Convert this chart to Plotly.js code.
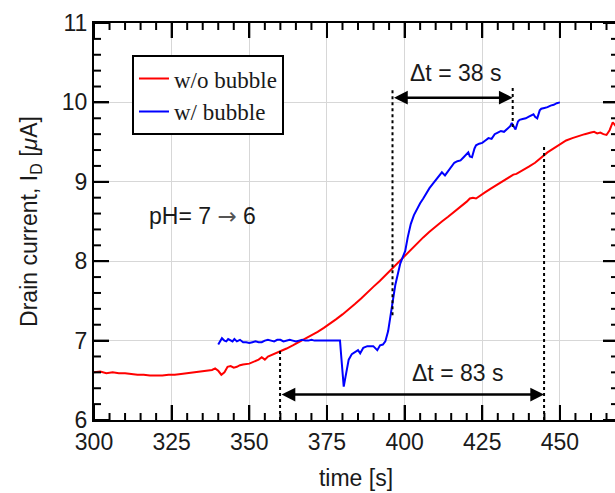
<!DOCTYPE html>
<html>
<head>
<meta charset="utf-8">
<script src="https://cdn.plot.ly/plotly-3.0.1.min.js"></script>
<style>
html,body{margin:0;padding:0;overflow:hidden;background:#fff;}
#chart{width:625px;height:493px;}
</style>
</head>
<body>
<div id="chart"></div>
<script>
// ---- data ----
const redTime = [300,302,304,306,308,310,312,314,316,318,320,322,324,326,328,330,332,334,336,338,339,340,341,342,343,344,345,346,347,348,350,352,353,354,355,356,358,360,362,364,366,368,370,372,374,376,378,380,382,384,386,388,390,392,394,396,398,400,402,404,406,408,410,412,414,416,418,420,421,422,423,424,426,428,430,432,434,435,436,438,440,442,444,446,448,450,452,454,456,458,460,461,462,463,464,465,466,467,468,468.7];
const redCurrent = [6.60,6.61,6.59,6.60,6.59,6.59,6.58,6.57,6.57,6.56,6.56,6.56,6.57,6.57,6.58,6.59,6.60,6.61,6.62,6.63,6.65,6.62,6.57,6.60,6.67,6.68,6.66,6.67,6.69,6.70,6.71,6.74,6.76,6.79,6.76,6.80,6.83,6.87,6.90,6.94,6.98,7.03,7.07,7.11,7.16,7.21,7.27,7.33,7.39,7.46,7.53,7.61,7.68,7.75,7.83,7.91,7.99,8.07,8.15,8.23,8.30,8.37,8.44,8.50,8.56,8.62,8.68,8.75,8.79,8.80,8.79,8.82,8.87,8.92,8.97,9.01,9.06,9.09,9.10,9.14,9.19,9.24,9.31,9.37,9.42,9.47,9.52,9.55,9.58,9.60,9.62,9.63,9.61,9.62,9.60,9.59,9.65,9.75,9.70,9.72];

const blueTime = [340,340.6,341.2,342,342.6,343.2,344,344.6,345.2,346,347,348,349,350,351,352,353,354,355,356,357,358,359,360,361,362,363,364,365,366,367,368,369,370,371,372,374,376,378,379.2,379.6,380,380.4,381,382,383,384,385,385.7,386.7,388,389.9,391.2,392.1,393,393.8,394.7,395.5,396.2,397,397.8,398.6,399.4,400.2,401,402,403,404,405,406,407,408,409,410,411,412,413,414,415,416,417,418,419,420,420.5,421,421.7,422.5,423,424,425,426,427,428,429,430,431,432,433,434,434.5,435,435.7,436.5,437,438,439,440,441,441.5,442,442.7,443.5,444,445,446,447,448,449,450];
const blueCurrent = [6.95,7.00,7.03,7.00,6.99,7.02,7.00,6.99,7.02,6.99,7.01,6.98,6.98,6.97,6.98,6.99,6.98,6.98,7.00,7.01,7.00,6.99,7.01,7.01,6.99,7.00,7.01,7.00,6.99,7.00,7.01,7.00,7.00,7.01,7.00,7.00,7.00,7.00,7.00,7.00,6.80,6.55,6.42,6.55,6.76,6.83,6.86,6.88,6.84,6.91,6.93,6.93,6.88,6.94,6.95,6.99,7.12,7.30,7.50,7.70,7.85,7.97,8.05,8.13,8.30,8.47,8.58,8.66,8.73,8.79,8.86,8.92,8.97,9.02,9.06,9.12,9.08,9.13,9.18,9.24,9.26,9.27,9.31,9.36,9.37,9.32,9.31,9.42,9.46,9.48,9.49,9.52,9.55,9.54,9.60,9.62,9.64,9.63,9.67,9.70,9.74,9.70,9.66,9.76,9.78,9.79,9.80,9.82,9.84,9.85,9.82,9.80,9.90,9.92,9.93,9.94,9.96,9.97,9.99,10.00];

const seriesNames = ['w/o bubble', 'w/ bubble'];
const xRange = [300, 468.7], yRange = [6, 11];
const xTickStart = 300, xTickStep = 25, xMinorStep = 5;
const yTickStart = 6, yTickStep = 1, yMinorStep = 0.2;

// Δt markers: [start, end, arrow level]
const dtFast = [396.1, 434.8, 10.06];   // Δt = 38 s
const dtSlow = [359.9, 444.9, 6.32];    // Δt = 83 s
const dtLabels = ['Δt = 38 s', 'Δt = 83 s'];
const dtLabelPos = [[416.3, 10.37], [417, 6.59]];
// dotted guides: [x, y0, y1]
const guides = [[396.1, 7.32, 10.18], [434.8, 9.69, 10.22], [359.9, 6.0, 6.88], [444.9, 6.0, 9.44]];
const phText = 'pH= 7 <span style="font-family:DejaVu Sans;color:#555">→</span> 6';
const phPos = [334.8, 8.57];

// ---- chart ----
const sansFont = 'Liberation Sans, Arial, sans-serif';
const textColor = '#1a1a1a';
const majorLen = 15, minorLen = 7;

const traces = [
  {x: redTime, y: redCurrent, name: seriesNames[0], type: 'scatter', mode: 'lines',
   line: {color: 'rgb(255,0,0)', width: 2}},
  {x: blueTime, y: blueCurrent, name: seriesNames[1], type: 'scatter', mode: 'lines',
   line: {color: 'rgb(0,0,255)', width: 2}}
];

const shapes = guides.map(g => ({
  type: 'line', xref: 'x', yref: 'y', x0: g[0], x1: g[0], y0: g[1], y1: g[2],
  line: {color: 'black', width: 2, dash: 'dot'}
}));

// inside tick marks on all four sides, placed on the axis scales (pixel-sized length)
function tickValues(start, step, end) {
  const out = [];
  for (let i = 0; start + i * step <= end + 1e-9; i++) out.push(+(start + i * step).toFixed(6));
  return out;
}
function isMajor(v, start, step) {
  const k = (v - start) / step;
  return Math.abs(k - Math.round(k)) < 1e-6;
}
tickValues(xTickStart, xMinorStep, xRange[1]).forEach(v => {
  const len = isMajor(v, xTickStart, xTickStep) ? majorLen : minorLen;
  [[0, len], [1, -len]].forEach(([anchor, l]) => shapes.push({
    type: 'line', xref: 'x', yref: 'paper', x0: v, x1: v,
    ysizemode: 'pixel', yanchor: anchor, y0: 0, y1: l,
    line: {color: 'black', width: 2}
  }));
});
tickValues(yTickStart, yMinorStep, yRange[1]).forEach(v => {
  const len = isMajor(v, yTickStart, yTickStep) ? majorLen : minorLen;
  [[0, len], [1, -len]].forEach(([anchor, l]) => shapes.push({
    type: 'line', xref: 'paper', yref: 'y', y0: v, y1: v,
    xsizemode: 'pixel', xanchor: anchor, x0: 0, x1: l,
    line: {color: 'black', width: 2}
  }));
});

const arrow = (d) => ({
  x: d[1], y: d[2], ax: d[0], ay: d[2], xref: 'x', yref: 'y', axref: 'x', ayref: 'y',
  text: '', showarrow: true, arrowhead: 2, arrowside: 'end+start', arrowsize: 1.1,
  arrowwidth: 2.5, arrowcolor: 'black'
});

const annotations = [
  arrow(dtFast), arrow(dtSlow),
  {x: dtLabelPos[0][0], y: dtLabelPos[0][1], xref: 'x', yref: 'y', text: dtLabels[0],
   showarrow: false, font: {family: sansFont, size: 23, color: textColor}},
  {x: dtLabelPos[1][0], y: dtLabelPos[1][1], xref: 'x', yref: 'y', text: dtLabels[1],
   showarrow: false, font: {family: sansFont, size: 23, color: textColor}},
  {x: phPos[0], y: phPos[1], xref: 'x', yref: 'y', text: phText,
   showarrow: false, font: {family: sansFont, size: 23, color: textColor}}
];

const axisCommon = {
  showline: true, linecolor: 'black', linewidth: 2, mirror: 'ticks',
  ticks: 'inside', ticklen: majorLen, tickwidth: 2, tickcolor: 'black',
  showgrid: true, gridcolor: 'rgb(215,215,215)', zeroline: false,
  tickfont: {family: sansFont, size: 23, color: textColor}
};

const layout = {
  width: 625, height: 493,
  margin: {l: 94, r: 7, t: 23, b: 73},
  showlegend: true,
  xaxis: Object.assign({}, axisCommon, {
    range: xRange, tick0: xTickStart, dtick: xTickStep,
    title: {text: 'time [s]', font: {family: sansFont, size: 23, color: textColor}, standoff: 16}
  }),
  yaxis: Object.assign({}, axisCommon, {
    range: yRange, tick0: yTickStart, dtick: yTickStep,
    title: {text: 'Drain current, I<sub>D</sub> [<i>μ</i>A]', font: {family: sansFont, size: 23, color: textColor}, standoff: 18}
  }),
  legend: {
    x: 0.0725, y: 0.919, xanchor: 'left', yanchor: 'top',
    bgcolor: 'white', bordercolor: 'black', borderwidth: 2,
    font: {family: 'Liberation Serif, DejaVu Serif, serif', size: 23, color: textColor},
    tracegroupgap: 0
  },
  shapes: shapes,
  annotations: annotations
};

Plotly.newPlot('chart', traces, layout, {displayModeBar: false});
</script>
</body>
</html>
